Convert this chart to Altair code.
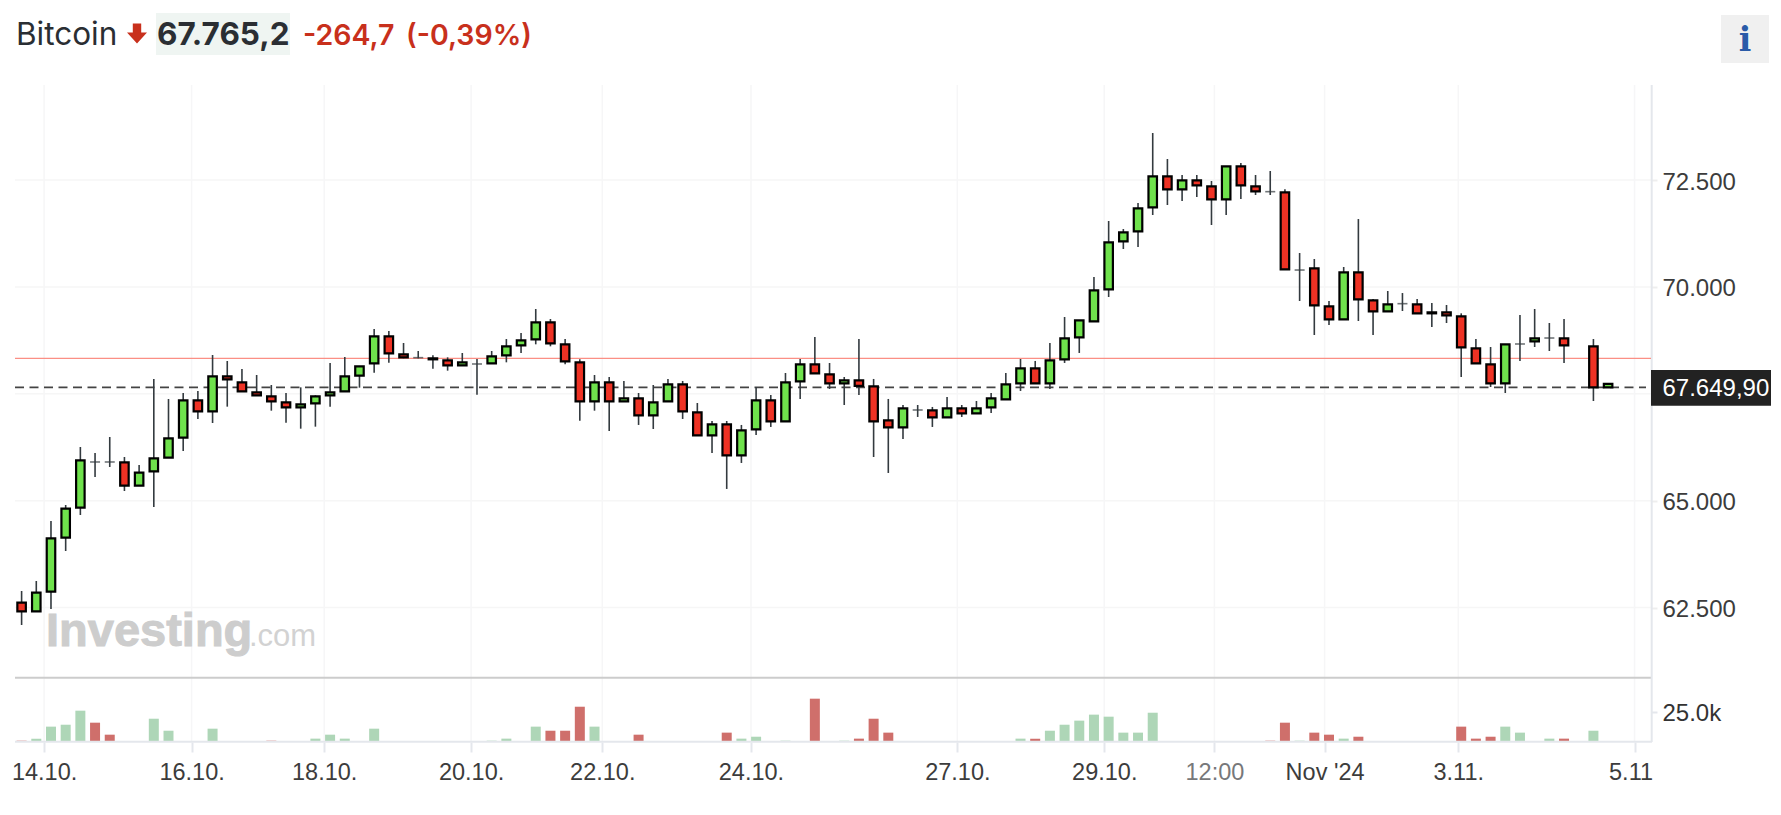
import altair as alt

# --- candle data (4h bars, position index on the chart's time axis) ---
idx = list(range(106)) + [107, 108]
high = [62886,63120,64524,64898,66255,66114,66489,66021,65834,67845,67377,67518,67565,68407,68266,68079,67939,67705,67518,67650,67463,68219,68360,68141,69014,68968,68687,68500,68398,68352,68453,68313,68500,68780,68921,69482,69248,68780,68305,67938,
67892,67799,67518,67705,67846,67799,67284,66863,66863,66770,67658,67471,67986,68313,68828,68220,67892,68781,67846,67378,67237,67237,67191,67424,67237,67331,67518,67986,68313,68267,68688,69296,69218,70231,
71541,71353,71962,73599,72991,72617,72617,72476,72819,72897,72617,72710,72281,70792,70652,69669,70465,71587,69716,69903,69856,69716,69623,69576,69381,68780,68593,68656,69342,69482,69155,69248,68780,67730]
low = [62091,62411,62465,63822,64664,65553,65787,65225,65350,64851,66005,66161,66910,66816,67198,67557,67463,67104,66824,66683,66730,67198,67557,67642,67993,68227,68330,68328,68087,68040,68165,67478,68211,68235,68453,68656,68609,68188,66870,67104,
66629,67323,66770,66676,67323,66910,66528,66115,65273,65881,66536,66723,66855,67378,67978,67612,67237,67471,66021,65647,66442,66957,66723,66949,66957,67043,67050,67370,67565,67744,67612,68220,68454,69194,
69763,70886,70932,71681,71915,72008,72102,71447,71681,72055,72149,72149,70410,69669,68874,69108,69241,69202,68874,69428,69435,69381,69061,69155,67892,68211,67658,67517,68266,68593,68500,68219,67330,67650]
open_ = [62613,62411,62871,64134,64836,65904,65904,65896,65350,65685,66005,66473,67346,67089,67908,67767,67533,67440,67299,67182,67276,67463,67557,67923,68211,68843,68422,68344,68328,68282,68165,68196,68211,68398,68632,68773,69170,68656,68235,67322,
67768,67323,67393,66996,67323,67721,67066,66528,66785,66060,66668,67347,66855,67791,68189,67955,67744,67814,67674,66879,66715,67120,67113,66949,67159,67043,67183,67370,67744,68095,67744,68306,68820,69194,
69942,71065,71299,71860,72585,72281,72492,72351,72047,72819,72351,72227,72211,70394,70433,69545,69241,70340,69685,69428,69607,69591,69404,69404,69311,68562,68188,67743,68664,68726,68804,68796,68609,67650]
close = [62411,62847,64118,64812,65943,65904,65904,65350,65654,65990,66457,67346,67089,67908,67837,67557,67463,67323,67182,67253,67440,67533,67908,68141,68843,68445,68352,68344,68305,68165,68235,68196,68375,68609,68749,69170,68679,68258,67322,67767,
67323,67393,66996,67300,67721,67089,66528,66785,66060,66645,67347,66855,67768,68189,67978,67744,67814,67682,66855,66715,67159,67120,66949,67159,67043,67159,67393,67721,68095,67744,68282,68797,69218,69920,
71042,71275,71837,72585,72281,72492,72375,72047,72819,72375,72235,72227,70410,70394,69568,69241,70340,69708,69428,69591,69607,69381,69381,69334,68586,68211,67743,68656,68664,68796,68804,68632,67650,67730]

# --- volume ---
vol_idx = [0,1,2,3,4,5,6,9,10,13,17,20,21,22,24,32,33,35,36,37,38,39,42,48,49,50,52,54,56,57,58,59,68,69,70,71,72,73,74,75,76,77,85,86,87,88,89,90,91,98,99,100,101,102,104,105,107]
vol_val = [1100,2800,12800,14400,26100,16100,6100,19400,9400,11100,1100,2800,6100,2800,11100,1100,2800,12800,9400,9400,29400,12800,6100,7800,2800,4400,1100,36100,1100,2800,19400,7800,2800,2800,9400,14400,17800,22800,21100,7800,7800,24400,1100,16100,1100,7800,6100,2800,4400,12800,2800,4400,12800,7800,2800,2800,9400]
vol_dir = ["d","u","u","u","u","d","d","u","u","u","d","u","u","u","u","u","u","u","d","d","d","u","d","d","u","u","u","d","u","d","d","d","u","d","u","u","u","u","u","u","u","u","d","d","u","d","d","u","d","d","d","d","u","u","u","d","u"]

# --- axes / reference levels ---
price_grid = [62500, 65000, 67500, 70000, 72500]
price_labels = [62500, 65000, 70000, 72500]
vol_ticks = [25000]
x_tick_pos = [1.53, 11.57, 20.6, 30.6, 39.53, 49.65, 63.7, 73.7, 81.2, 88.7, 97.8, 109.8]
x_tick_lab = ["14.10.", "16.10.", "18.10.", "20.10.", "22.10.", "24.10.", "27.10.", "29.10.", "12:00", "Nov '24", "3.11.", "5.11"]
last_price = 67649.9
prev_close = 68329

W, H = 1643, 734
x_scale = alt.Scale(domain=[-0.926, 110.92], nice=False, zero=False, padding=0)
price_scale = alt.Scale(domain=[62500, 72500], range=[599.5, 172], nice=False, zero=False)
vol_scale = alt.Scale(domain=[0, 25000], range=[734, 704], nice=False, zero=False)

candles = [dict(i=i, h=h, l=l, o=o, c=c, dir="u" if c >= o else "d")
           for i, h, l, o, c in zip(idx, high, low, open_, close)]
vols = [dict(i=i, v=v, dir=d) for i, v, d in zip(vol_idx, vol_val, vol_dir)]
one = alt.Data(values=[{"a": 1}])

x_expr = "{" + ",".join(f"'{p}':\"{l}\"" for p, l in zip(x_tick_pos, x_tick_lab)) + "}[datum.value]"
x_axis = alt.Axis(values=x_tick_pos, labelExpr=x_expr, title=None, grid=False, domain=False,
                  tickColor="#e4e7ec", tickSize=10, tickWidth=2, labelFont="Liberation Sans", labelFontSize=23.5,
                  labelColor=alt.condition("datum.value == 81.2", alt.value("#77787a"), alt.value("#3c3c3c")),
                  labelOffset=alt.condition("datum.value > 105", alt.value(-4), alt.value(0)),
                  labelPadding=8, labelOverlap=False, labelBound=False, labelFlush=False)

X = lambda f: alt.X(f, scale=x_scale, axis=x_axis, title=None)
P = lambda f: alt.Y(f, scale=price_scale, axis=None, title=None)

# horizontal + vertical grid
hgrid = alt.Chart(alt.Data(values=[{"v": v} for v in price_grid])).mark_rule(color="#f6f6f6", strokeWidth=1.5).encode(
    y=P("v:Q"), x=alt.value(7), x2=alt.value(1643))
vgrid = alt.Chart(alt.Data(values=[{"p": p} for p in x_tick_pos])).mark_rule(color="#f6f6f7", strokeWidth=1.5).encode(
    x=X("p:Q"), y=alt.value(77), y2=alt.value(734))

ref_red = alt.Chart(alt.Data(values=[{"v": prev_close}])).mark_rule(color="#fb8f85", strokeWidth=1.2).encode(
    y=P("v:Q"), x=alt.value(7), x2=alt.value(1643))
ref_dash = alt.Chart(alt.Data(values=[{"v": last_price}])).mark_rule(color="#444444", strokeWidth=1.6, strokeDash=[9, 5.5]).encode(
    y=P("v:Q"), x=alt.value(7), x2=alt.value(1638))

sep = alt.Chart(one).mark_rule(color="#cccccc", strokeWidth=2).encode(
    y=alt.value(669.7), x=alt.value(7), x2=alt.value(1643))
right_line = alt.Chart(one).mark_rule(color="#e4e7ec", strokeWidth=2).encode(
    x=alt.value(1643.7), y=alt.value(77), y2=alt.value(734))
base_line = alt.Chart(one).mark_rule(color="#e4e7ec", strokeWidth=2).encode(
    y=alt.value(733.7), x=alt.value(7), x2=alt.value(1644))

# watermark
wm1 = alt.Chart(one).mark_text(text="Investing", font="Liberation Sans", fontWeight="bold", fontSize=47,
                               color="#cdcdcd", stroke="#cdcdcd", strokeWidth=1, align="left", baseline="alphabetic").encode(
    x=alt.value(38), y=alt.value(638))
wm2 = alt.Chart(one).mark_text(text=".com", font="Liberation Sans", fontSize=31,
                               color="#d2d2d2", align="left", baseline="alphabetic").encode(
    x=alt.value(241), y=alt.value(638))

# volume bars (carry the volume axis)
vol_axis = alt.Axis(values=vol_ticks, labelExpr="'25.0k'", orient="right", title=None, grid=False, domain=False,
                    tickColor="#e4e7ec", tickSize=6, tickWidth=2, labelFont="Liberation Sans", labelFontSize=24,
                    labelColor="#333333", labelPadding=5, labelOffset=1)
vol_bars = alt.Chart(alt.Data(values=vols)).mark_bar(size=10, orient="vertical").encode(
    x=X("i:Q"),
    y=alt.Y("v:Q", scale=vol_scale, axis=vol_axis, title=None),
    y2=alt.Y2(datum=0),
    color=alt.Color("dir:N", scale=alt.Scale(domain=["u", "d"], range=["#aed6b7", "#cf6f6b"]), legend=None),
)

# candles
wicks = alt.Chart(alt.Data(values=candles)).mark_rule(color="#333a3f", strokeWidth=1.6).encode(
    x=X("i:Q"), y=P("h:Q"), y2="l:Q")
bodies = alt.Chart(alt.Data(values=candles)).transform_filter("datum.o != datum.c").mark_bar(
    size=8.5, orient="vertical", stroke="#000000", strokeWidth=2.2).encode(
    x=X("i:Q"), y=P("o:Q"), y2="c:Q",
    fill=alt.Fill("dir:N", scale=alt.Scale(domain=["u", "d"], range=["#6fe24c", "#ee3224"]), legend=None),
)
doji = alt.Chart(alt.Data(values=candles)).transform_filter("datum.o == datum.c").mark_tick(
    orient="horizontal", size=10, thickness=1.6, color="#333a3f").encode(
    x=X("i:Q"), y=P("o:Q"))

# price axis (right)
price_axis = alt.Axis(values=price_labels, labelExpr="replace(format(datum.value, ','), ',', '.')", orient="right",
                      title=None, grid=False, domain=False, tickColor="#eeeeee", tickSize=6, tickWidth=2,
                      labelFont="Liberation Sans", labelFontSize=24, labelColor="#3c3c3c", labelPadding=5, labelOffset=2)
axis_layer = alt.Chart(alt.Data(values=[{"v": v} for v in price_labels])).mark_point(opacity=0).encode(
    y=alt.Y("v:Q", scale=price_scale, axis=price_axis, title=None))

# last price tag
tag_box = alt.Chart(one).mark_rect(color="#222222").encode(
    x=alt.value(1643), x2=alt.value(1763), y=alt.value(362), y2=alt.value(397.7))
tag_txt = alt.Chart(one).mark_text(text="67.649,90", font="Liberation Sans", fontSize=24, color="#ffffff",
                                   align="left", baseline="middle").encode(x=alt.value(1654.5), y=alt.value(380.5))

# header
hdr_bg = alt.Chart(one).mark_rect(color="#eff5f2").encode(
    x=alt.value(148), x2=alt.value(282), y=alt.value(5), y2=alt.value(47))
hdr = lambda s, xp, **k: alt.Chart(one).mark_text(text=s, font="Inter", align="left", baseline="alphabetic", **k).encode(
    x=alt.value(xp), y=alt.value(37))
t1 = hdr("Bitcoin", 8, fontSize=31.5, color="#2a2e33")
t2 = hdr("67.765,2", 149, fontSize=31.5, fontWeight="bold", color="#2a2e33")
t3 = hdr("-264,7", 295, fontSize=28.5, fontWeight=600, color="#c8301c")
t4 = hdr("(-0,39%)", 398, fontSize=28.5, fontWeight=600, color="#c8301c")
arrow = alt.Chart(one).mark_point(shape="M-0.42,-1 L0.42,-1 L0.42,-0.1 L1,-0.1 L0,1 L-1,-0.1 L-0.42,-0.1 Z",
                                  filled=True, color="#c8301c", opacity=1, size=400).encode(
    x=alt.value(129), y=alt.value(25.5))
info_bg = alt.Chart(one).mark_rect(color="#f0f0f0").encode(
    x=alt.value(1713), x2=alt.value(1761), y=alt.value(7), y2=alt.value(55))
info_i = alt.Chart(one).mark_text(text="i", font="DejaVu Serif", fontWeight="bold", fontSize=33, color="#2a5ba8",
                                  align="center", baseline="alphabetic").encode(x=alt.value(1737), y=alt.value(43))

chart = alt.layer(
    hgrid, vgrid, wm1, wm2, sep, vol_bars, base_line, right_line, ref_red, ref_dash,
    wicks, bodies, doji, axis_layer, tag_box, tag_txt, hdr_bg, t1, t2, t3, t4, arrow, info_bg, info_i,
).resolve_scale(y="independent", fill="independent", color="independent").properties(
    width=W, height=H, padding=0, background="#ffffff",
).configure_view(stroke=None)

chart.save("out.html", embed_options={"renderer": "svg", "actions": False})
